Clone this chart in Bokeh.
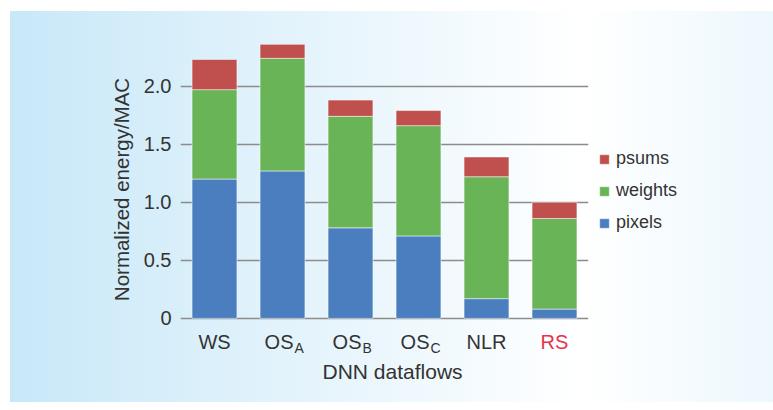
from bokeh.plotting import figure
from bokeh.models import ColumnDataSource, Legend, LegendItem, FactorRange, Range1d, FixedTicker, Title
from bokeh.core.properties import value
from bokeh.embed import file_html
from bokeh.resources import INLINE

# ---- data ----
categories = ["WS", "OS_A", "OS_B", "OS_C", "NLR", "RS"]
main_labels = ["WS", "OS", "OS", "OS", "NLR", "RS"]
sub_labels = ["", "A", "B", "C", "", ""]
pixels = [1.20, 1.27, 0.78, 0.71, 0.17, 0.08]
weights = [0.77, 0.97, 0.96, 0.95, 1.05, 0.78]
psums = [0.26, 0.12, 0.14, 0.13, 0.17, 0.14]
y_ticks = [0, 0.5, 1.0, 1.5, 2.0]
y_tick_labels = ["0", "0.5", "1.0", "1.5", "2.0"]
series = ["pixels", "weights", "psums"]
colors = ["#4a7ebf", "#69b457", "#c0504d"]
TEXT = "#333333"
FONT = "Liberation Sans"

src = ColumnDataSource(dict(cat=categories, pixels=pixels, weights=weights, psums=psums))

p = figure(x_range=FactorRange(*categories), y_range=Range1d(-0.38, 2.6),
           frame_width=408, frame_height=346,
           min_border_left=180, min_border_right=177, min_border_top=16, min_border_bottom=40,
           output_backend="svg", toolbar_location=None, title=None)

p.styles = {
    "background-color": "white",
    "background-image": "linear-gradient(to right, #c8e8f8 0%, #ffffff 50%, #c8e8f8 100%)",
    "background-position": "10px 11px",
    "background-size": "calc(100% - 10px) calc(100% - 11px)",
    "background-repeat": "no-repeat",
}
p.border_fill_color = None
p.background_fill_color = None
p.outline_line_color = None

renderers = p.vbar_stack(series, x="cat", width=0.66, color=colors, source=src,
                         line_color="white", line_alpha=0.5, line_width=1)

# y axis
p.yaxis.ticker = FixedTicker(ticks=y_ticks)
p.yaxis.major_label_overrides = {t: l for t, l in zip(y_ticks, y_tick_labels)}
p.yaxis.axis_line_color = None
p.yaxis.major_tick_line_color = None
p.yaxis.minor_tick_line_color = None
p.yaxis.major_label_standoff = 3
p.yaxis.major_label_text_font = FONT
p.yaxis.major_label_text_font_size = "20px"
p.yaxis.major_label_text_color = TEXT
p.yaxis.axis_label = "Normalized energy/MAC"
p.yaxis.axis_label_text_font = FONT
p.yaxis.axis_label_text_font_size = "20.5px"
p.yaxis.axis_label_text_font_style = "normal"
p.yaxis.axis_label_text_color = TEXT
p.yaxis.axis_label_standoff = 8

# x axis: categories drawn as text (with subscripts); axis itself hidden
p.xaxis.visible = False
p.xgrid.grid_line_color = None
p.ygrid.ticker = FixedTicker(ticks=y_ticks)
p.ygrid.grid_line_color = "#8c8c8c"
p.ygrid.grid_line_width = 1.3

has_sub = [s != "" for s in sub_labels]
lab_src = ColumnDataSource(dict(
    cat=categories,
    y=[0] * len(categories),
    text=main_labels,
    align=["right" if h else "center" for h in has_sub],
    xoff=[11 if h else 0 for h in has_sub],
    color=["#e8334a" if c == "RS" else TEXT for c in categories],
))
p.text(x="cat", y="y", text="text", source=lab_src, x_offset="xoff", y_offset=24,
       text_align="align", text_baseline="alphabetic", text_color="color",
       text_font=value(FONT), text_font_size=value("20px"))
sub_src = ColumnDataSource(dict(
    cat=[c for c, h in zip(categories, has_sub) if h],
    y=[0] * sum(has_sub),
    text=[s for s in sub_labels if s],
))
p.text(x="cat", y="y", text="text", source=sub_src, x_offset=12, y_offset=29.5,
       text_align="left", text_baseline="alphabetic", text_color=TEXT,
       text_font=value(FONT), text_font_size=value("14px"))

p.add_layout(Title(text="DNN dataflows", align="left", offset=142, standoff=-9,
                   text_font=FONT, text_font_size="21px", text_font_style="normal",
                   text_color=TEXT), "below")

legend = Legend(items=[LegendItem(label=s, renderers=[r]) for s, r in reversed(list(zip(series, renderers)))],
                location=(10, 129), orientation="vertical",
                glyph_width=12, glyph_height=12, label_height=20, spacing=11,
                label_standoff=6, padding=0, margin=0,
                label_text_font=FONT, label_text_font_size="18px", label_text_color=TEXT,
                background_fill_alpha=0, border_line_alpha=0)
p.add_layout(legend, "right")

open("out.html", "w").write(file_html(p, INLINE))
